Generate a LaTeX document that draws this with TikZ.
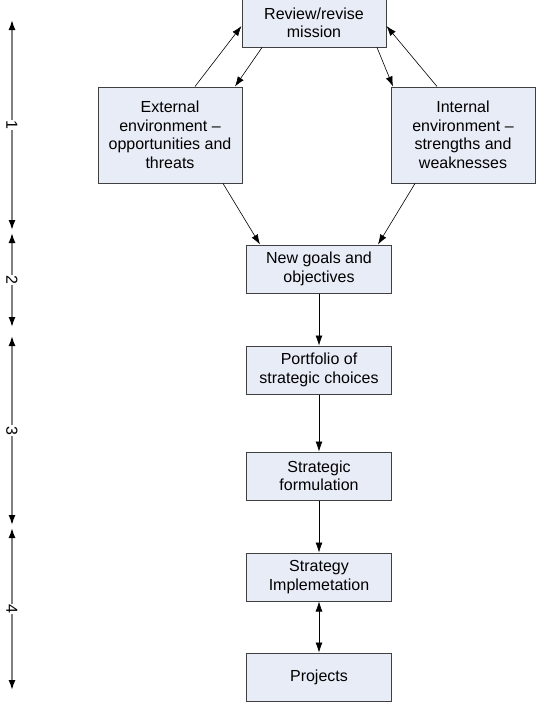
\documentclass[tikz,border=0pt]{standalone}
\usepackage{fontspec}
\setmainfont{Liberation Sans}
\usetikzlibrary{arrows.meta}

\definecolor{boxfill}{RGB}{232,236,246}
\definecolor{boxline}{RGB}{64,64,64}
\definecolor{scalegray}{RGB}{128,128,128}

\begin{document}
\begin{tikzpicture}[x=1pt,y=-1pt,
    stage/.style={draw=boxline, fill=boxfill, line width=1pt, align=center,
        minimum width=145pt, minimum height=48pt, inner sep=2pt,
        font=\fontsize{16}{18.5}\selectfont},
    flow/.style={-{Latex[length=10pt,width=7pt]}, line width=0.6pt},
    bothway/.style={{Latex[length=10pt,width=7pt]}-{Latex[length=10pt,width=7pt]}, line width=0.6pt},
    span/.style={{Latex[length=10pt,width=7pt,color=black]}-{Latex[length=10pt,width=7pt,color=black]},
        draw=scalegray, line width=1.5pt},
    phase/.style={fill=white, rotate=-90, inner sep=1pt,
        font=\fontsize{16}{18}\selectfont}]
            \useasboundingbox (0,0) rectangle (536,702);

            % Define points
            \coordinate (OneTop) at (12,20);
            \coordinate (OneBot) at (12,230);
            \coordinate (TwoTop) at (12,233);
            \coordinate (TwoBot) at (12,327);
            \coordinate (ThreeTop) at (12,336);
            \coordinate (ThreeBot) at (12,525);
            \coordinate (FourTop) at (12,528);
            \coordinate (FourBot) at (12,690);

            % Draw boxes
            \node[stage, minimum width=144pt] (Mission) at (314,23) {Review/revise\\mission};
            \node[stage, minimum width=144pt, minimum height=96pt] (External) at (170,135)
                {External\\environment --\\opportunities and\\threats};
            \node[stage, minimum width=144pt, minimum height=96pt] (Internal) at (463,135)
                {Internal\\environment --\\strengths and\\weaknesses};
            \node[stage] (Goals) at (319,269) {New goals and\\objectives};
            \node[stage] (Portfolio) at (319,370) {Portfolio of\\strategic choices};
            \node[stage] (Formulation) at (319,476) {Strategic\\formulation};
            \node[stage] (Implementation) at (319,577) {Strategy\\Implemetation};
            \node[stage] (Projects) at (319,677) {Projects};

            % Draw arrows round the mission
            \draw[flow] ([xshift=25pt]External.north) -- ([yshift=-3pt]Mission.west);
            \draw[flow] ([xshift=-52pt]Mission.south) -- ([xshift=65pt]External.north);
            \draw[flow] ([xshift=63pt]Mission.south) -- ([xshift=-70pt]Internal.north);
            \draw[flow] ([xshift=-26pt]Internal.north) -- ([yshift=-3pt]Mission.east);

            % Draw arrows into the goals
            \draw[flow] ([xshift=53pt]External.south) -- ([xshift=-59pt]Goals.north);
            \draw[flow] ([xshift=-48pt]Internal.south) -- ([xshift=59pt]Goals.north);

            % Draw vertical chain
            \draw[flow] (Goals.south) -- (Portfolio.north);
            \draw[flow] (Portfolio.south) -- (Formulation.north);
            \draw[flow] (Formulation.south) -- (Implementation.north);
            \draw[bothway] (Implementation.south) -- (Projects.north);

            % Draw phase scale
            \draw[span] (OneTop) -- node[phase] {1} (OneBot);
            \draw[span] (TwoTop) -- node[phase] {2} (TwoBot);
            \draw[span] (ThreeTop) -- node[phase] {3} (ThreeBot);
            \draw[span] (FourTop) -- node[phase] {4} (FourBot);
        \end{tikzpicture}
\end{document}
